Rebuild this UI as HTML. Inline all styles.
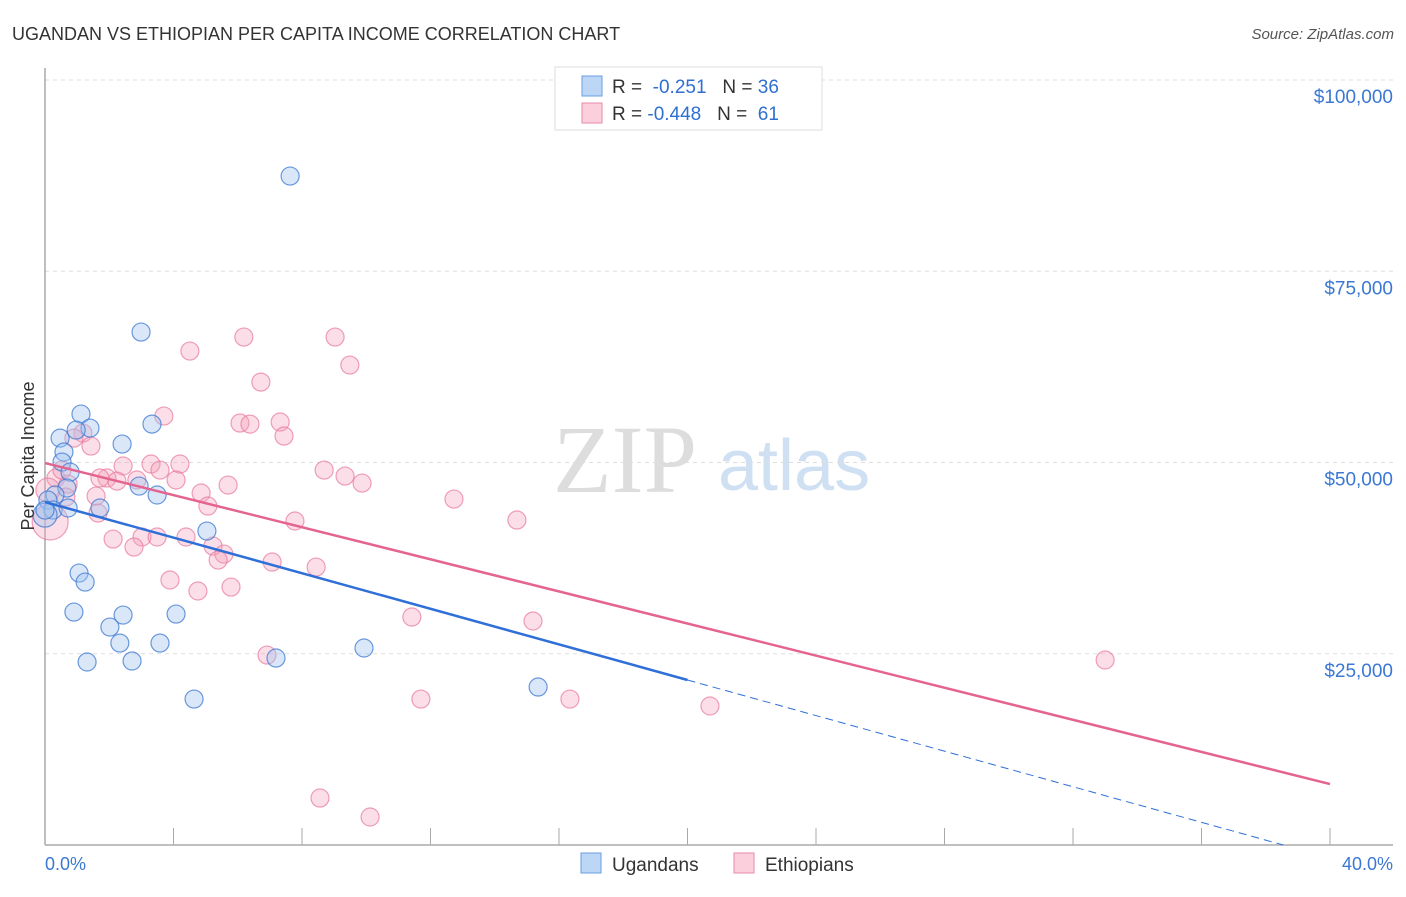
<!DOCTYPE html>
<html><head><meta charset="utf-8"><style>
body{margin:0;background:#fff;font-family:"Liberation Sans",sans-serif;}
</style></head><body>
<svg width="1406" height="892" xmlns="http://www.w3.org/2000/svg" id="chart">
<text x="12" y="40" font-size="18" fill="#333">UGANDAN VS ETHIOPIAN PER CAPITA INCOME CORRELATION CHART</text>
<text x="1394" y="39" font-size="15" fill="#555" font-style="italic" text-anchor="end">Source: ZipAtlas.com</text>
<text x="553" y="492" font-size="96" fill="#ddd" font-family="Liberation Serif">ZIP</text>
<text x="718" y="490" font-size="72" fill="#cfe0f3">atlas</text>
<g id="grid"></g><g id="axes"></g><g id="pts"></g><g id="lines"></g>
<text transform="translate(34,456) rotate(-90)" font-size="18" fill="#333" text-anchor="middle">Per Capita Income</text>
<text x="45" y="870" font-size="18" fill="#3a78d4">0.0%</text>
<text x="1393" y="870" font-size="18" fill="#3a78d4" text-anchor="end">40.0%</text>
<g>
<rect x="555" y="67" width="267" height="63" fill="#fff" stroke="#ddd"/>
<rect x="582" y="76" width="20" height="20" fill="#bcd6f5" stroke="#6a9ee0"/>
<rect x="582" y="103" width="20" height="20" fill="#fbd0dc" stroke="#ea8aa8"/>
<text x="612" y="93" font-size="19" fill="#333">R = <tspan fill="#2f6fd0">&#160;-0.251</tspan>&#160;&#160;&#160;N = <tspan fill="#2f6fd0">36</tspan></text>
<text x="612" y="120" font-size="19" fill="#333">R = <tspan fill="#2f6fd0">-0.448</tspan>&#160;&#160;&#160;N = <tspan fill="#2f6fd0">&#160;61</tspan></text>
</g>
<g>
<rect x="581" y="853" width="20" height="20" fill="#bcd6f5" stroke="#6a9ee0"/>
<text x="612" y="871" font-size="19" fill="#333">Ugandans</text>
<rect x="734" y="853" width="20" height="20" fill="#fbd0dc" stroke="#ea8aa8"/>
<text x="765" y="871" font-size="19" fill="#333">Ethiopians</text>
</g>
</svg>
<script>
const yTicks=[25000,50000,75000,100000];
const yTickLabels=["$25,000","$50,000","$75,000","$100,000"];
const xTicks=[0,4,8,12,16,20,24,28,32,36,40];
const ugX=[7.63,2.99,1.12,3.33,0.47,1.40,0.97,2.40,0.59,0.53,0.78,2.93,0.68,0.31,3.49,0.09,1.71,0.25,0,5.04,1.06,1.25,0.90,2.43,4.08,2.02,2.33,3.58,9.93,7.19,1.31,2.71,4.64,15.35,0,0.72];
const ugY=[87440,67050,56330,55020,53190,54500,54240,52410,51370,50060,48750,46920,46660,45750,45750,45090,44050,43780,43130,41040,35550,34370,30450,30060,30190,28490,26400,26400,25750,24440,23920,24050,19080,20650,43780,44050];
const etX=[9.03,6.19,4.51,9.49,6.72,3.70,6.07,6.38,7.32,7.44,1.18,1.43,0.90,2.43,3.30,4.20,3.58,8.69,9.34,9.87,1.93,2.24,2.86,4.08,5.70,4.86,0.34,0.72,1.59,0.65,12.73,5.07,7.78,14.69,2.12,3.02,3.49,4.39,2.77,5.23,5.57,5.39,7.07,8.44,3.89,4.76,5.79,11.42,15.19,6.91,33.00,11.70,16.34,20.70,8.56,10.12,0.16,0.09,1.71,0.53,1.65];
const etY=[66400,66400,64570,62740,60510,56070,55160,55020,55290,53460,53850,52150,53190,49540,49800,49800,49010,49010,48230,47310,47970,47570,47710,47710,47050,46010,47970,47180,45610,45480,45220,44310,42350,42480,39990,40260,40260,40260,38950,39080,38030,37250,36990,36330,34640,33200,33720,29800,29280,24830,24180,19080,19080,18170,6140,3660,42220,46400,47970,49010,43390];
const ugTrend=[44830,-1163];
const etTrend=[49930,-1049];
const X=v=>45+v/40*1285, Y=v=>845-v/100000*765;
const NS="http://www.w3.org/2000/svg";
function mk(p,t,a){const e=document.createElementNS(NS,t);for(const k in a)e.setAttribute(k,a[k]);document.getElementById(p).appendChild(e);return e;}
yTicks.forEach((t,i)=>{
 const l=mk('grid','line',{x1:45,x2:1393,y1:Y(t),y2:Y(t),stroke:'#ddd','stroke-dasharray':'4,4'});
 
 
 const tx=mk('grid','text',{x:1393,y:Y(t)+23,'font-size':19,fill:'#3a78d4','text-anchor':'end'});
 tx.textContent=yTickLabels[i];
 
 
});
const tl=mk('grid','line',{x1:45,x2:1393,y1:80,y2:80,stroke:'#ddd','stroke-dasharray':'4,4'});
const ya=mk('axes','line',{x1:45,x2:45,y1:68,y2:845,stroke:'#aaa','stroke-width':1.5});


const xa=mk('axes','line',{x1:45,x2:1393,y1:845,y2:845,stroke:'#aaa','stroke-width':1.5});


xTicks.forEach(t=>{const l=mk('axes','line',{x1:X(t),x2:X(t),y1:828,y2:845,stroke:'#aaa'});
 
 });
etX.forEach((x,i)=>{const r=(i==56)?18:(i==57?12:9);
 const c=mk('pts','circle',{cx:X(x),cy:Y(etY[i]),r:r,fill:'rgba(244,160,186,0.35)',stroke:'rgba(232,120,156,0.7)','stroke-width':1.2});
 
 });
ugX.forEach((x,i)=>{const r=(i==18)?12:9;
 const c=mk('pts','circle',{cx:X(x),cy:Y(ugY[i]),r:r,fill:'rgba(160,196,240,0.4)',stroke:'rgba(60,120,210,0.75)','stroke-width':1.2});
 
 });
const uf=x=>ugTrend[0]+ugTrend[1]*x, ef=x=>etTrend[0]+etTrend[1]*x;
const x0=-ugTrend[0]/ugTrend[1];
let l1=mk('lines','line',{x1:X(0),y1:Y(uf(0)),x2:X(20),y2:Y(uf(20)),stroke:'#2f6fd8','stroke-width':2.5});


let l2=mk('lines','line',{x1:X(20),y1:Y(uf(20)),x2:X(Math.min(40,x0)),y2:Y(uf(Math.min(40,x0))),stroke:'#2f6fd8','stroke-width':1,'stroke-dasharray':'8,5'});


let l3=mk('lines','line',{x1:X(0),y1:Y(ef(0)),x2:X(40),y2:Y(ef(40)),stroke:'#e4648f','stroke-width':2.5});


</script>
</body></html>
